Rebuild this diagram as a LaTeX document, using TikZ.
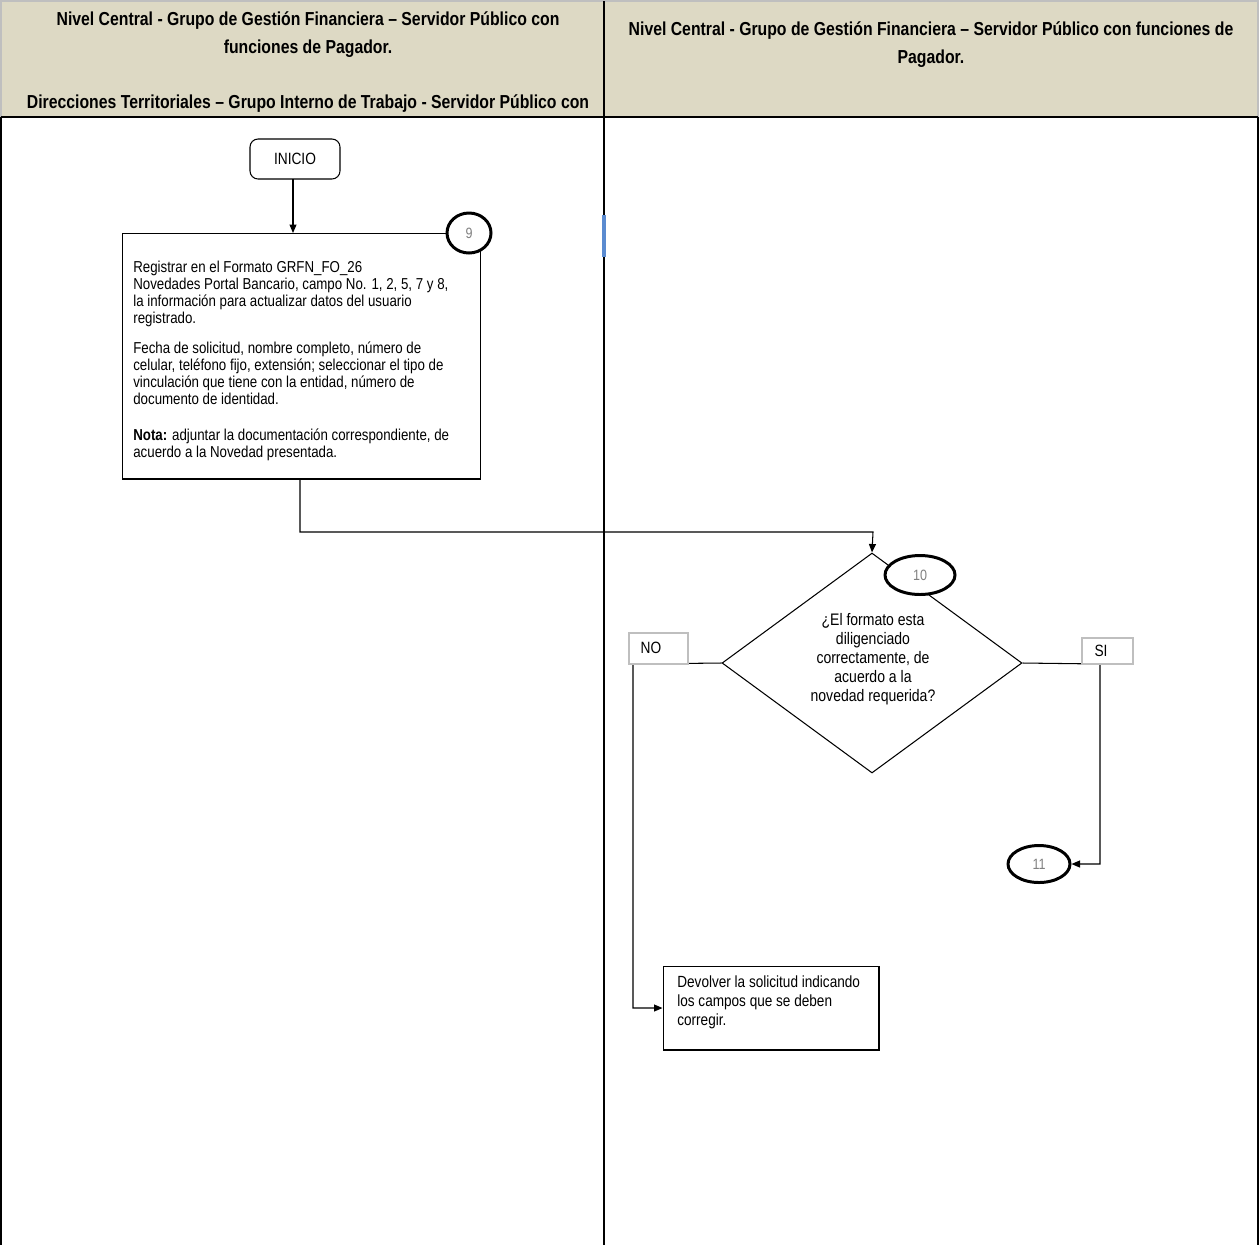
\documentclass[tikz,border=0pt]{standalone}
\usepackage{fontspec}
\setmainfont{Liberation Sans}[FakeStretch=0.84]
\usetikzlibrary{arrows.meta,shapes.geometric}
\definecolor{hdr}{HTML}{DDD9C4}
\definecolor{numgray}{HTML}{808080}
\definecolor{lblgray}{HTML}{BFBFBF}
\definecolor{markblue}{HTML}{5B8BD0}
\begin{document}
\begin{tikzpicture}[x=0.02cm,y=-0.02cm,
  procbox/.style={draw=black,line width=0.6pt,fill=white,inner sep=0pt},
  startbox/.style={draw=black,line width=0.6pt,rounded corners=0.16cm,fill=white,inner sep=0pt,font=\fontsize{9.3}{11}\selectfont},
  numcirc/.style={ellipse,draw=black,line width=1.7pt,fill=white,inner sep=0pt,text=numgray,font=\fontsize{8.5}{10}\selectfont},
  decis/.style={diamond,draw=black,line width=0.6pt,inner sep=0pt,minimum width=6cm,minimum height=4.4cm},
  lbl/.style={draw=lblgray,line width=0.6pt,fill=white,inner sep=0pt,font=\fontsize{9.3}{11}\selectfont},
  bodytxt/.style={inner sep=0pt,align=left,font=\fontsize{9}{9.7}\selectfont},
  hdrtxt/.style={inner sep=0pt,align=center,font=\bfseries\fontsize{10.7}{15.9}\selectfont},
  conn/.style={line width=0.6pt,draw=black},
  arr/.style={conn,-{Triangle[length=0.17cm,width=0.14cm]}}]
\useasboundingbox (0,0) rectangle (1260,1245);
% header
\fill[hdr] (1,1) rectangle (1258,117);
\draw[lblgray,line width=0.6pt] (1,117) -- (1,1) -- (1258,1) -- (1258,117);
\draw[black,line width=1.6pt] (1,117) -- (1258,117);
\draw[black,line width=1.6pt] (604,1) -- (604,1245);
\draw[black,line width=0.6pt] (1,117) -- (1,1245);
\draw[black,line width=0.6pt] (1258,117) -- (1258,1245);
\fill[markblue] (602,215) rectangle (606,257);
\node[hdrtxt,anchor=north] (h1) at (308,11) {Nivel Central - Grupo de Gestión Financiera – Servidor Público con\\funciones de Pagador.\\[15.9pt]Direcciones Territoriales – Grupo Interno de Trabajo - Servidor Público con};
\node[hdrtxt,anchor=north] (h2) at (931,21) {Nivel Central - Grupo de Gestión Financiera – Servidor Público con funciones de\\Pagador.};
% nodes
\node[startbox,minimum width=1.8cm,minimum height=0.8cm] (inicio) at (295,159) {INICIO};
\node[procbox,minimum width=7.18cm,minimum height=4.92cm] (box9) at (301.5,356) {};
\node[bodytxt,anchor=north west] (t9) at (133,261) {Registrar en el Formato GRFN\_FO\_26\\Novedades Portal Bancario, campo No. 1, 2, 5, 7 y 8,\\la información para actualizar datos del usuario\\registrado.\\[7.2pt]Fecha de solicitud, nombre completo, número de\\celular, teléfono fijo, extensión; seleccionar el tipo de\\vinculación que tiene con la entidad, número de\\documento de identidad.\\[10.5pt]\textbf{Nota:} adjuntar la documentación correspondiente, de\\acuerdo a la Novedad presentada.};
\node[numcirc,minimum width=0.88cm,minimum height=0.8cm] (c9) at (469,233) {9};
\node[decis] (dia) at (872,663) {};
\node[inner sep=0pt,align=center,font=\fontsize{9.5}{10.8}\selectfont] (tdia) at (873,659) {¿El formato esta\\diligenciado\\correctamente, de\\acuerdo a la\\novedad requerida?};
\node[numcirc,minimum width=1.4cm,minimum height=0.78cm] (c10) at (920,575) {10};
\node[numcirc,minimum width=1.24cm,minimum height=0.74cm] (c11) at (1039,864) {11};
\node[procbox,minimum width=4.32cm,minimum height=1.68cm] (dev) at (771,1008) {};
\node[bodytxt,anchor=north west,font=\fontsize{9.2}{10.8}\selectfont] (tdev) at (677,975) {Devolver la solicitud indicando\\los campos que se deben\\corregir.};
% connectors
\coordinate (bend1) at (873,532);
\coordinate (noturn) at (633,664);
\coordinate (siturn) at (1100,664);
\draw[arr] (293,179) -- (293,233);
\draw[arr] (box9.south -| 300,0) |- (bend1) -- (dia.north);
\draw[arr] (dia.west) -- (noturn) |- (dev.west);
\draw[arr] (dia.east) -- (siturn) |- (c11.east);
\node[lbl,minimum width=1.18cm,minimum height=0.62cm] (nolab) at (658.5,648.5) {};
\node[inner sep=0pt,font=\fontsize{9.3}{11}\selectfont] (notxt) at (651,648) {NO};
\node[lbl,minimum width=1.02cm,minimum height=0.52cm] (silab) at (1107.5,651) {};
\node[inner sep=0pt,font=\fontsize{9.3}{11}\selectfont] (sitxt) at (1101,651) {SI};
\end{tikzpicture}
\end{document}
